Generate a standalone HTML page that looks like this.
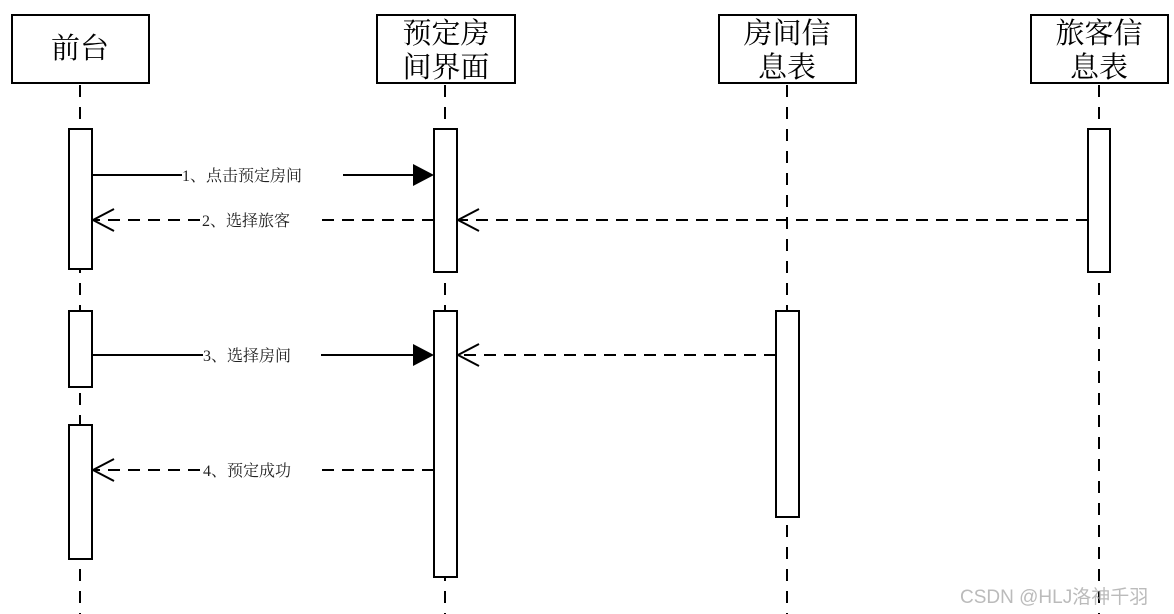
<!DOCTYPE html>
<html><head><meta charset="utf-8"><style>
html,body{margin:0;padding:0;background:#fff;}
svg{display:block;}
.h{font-family:"Liberation Serif","Noto Serif CJK SC",serif;font-size:29px;fill:#000;}
.l{font-family:"Liberation Serif","Noto Serif CJK SC",serif;font-size:16px;fill:#222;}
</style></head><body>
<svg width="1174" height="614" viewBox="0 0 1174 614" xmlns="http://www.w3.org/2000/svg">
<g stroke="#000" stroke-width="2" fill="#fff">
<rect x="12" y="15" width="137" height="68"/>
<rect x="377" y="15" width="138" height="68"/>
<rect x="719" y="15" width="137" height="68"/>
<rect x="1031" y="15" width="137" height="68"/>
</g>
<text class="h" x="80" y="58" text-anchor="middle">前台</text>
<text class="h" x="446" y="43" text-anchor="middle">预定房</text>
<text class="h" x="446" y="77" text-anchor="middle">间界面</text>
<text class="h" x="787" y="43" text-anchor="middle">房间信</text>
<text class="h" x="787" y="77" text-anchor="middle">息表</text>
<text class="h" x="1099" y="43" text-anchor="middle">旅客信</text>
<text class="h" x="1099" y="77" text-anchor="middle">息表</text>
<g stroke="#000" stroke-width="2" stroke-dasharray="12,10" fill="none">
<line x1="80" y1="85" x2="80" y2="614"/>
<line x1="445" y1="85" x2="445" y2="614"/>
<line x1="787" y1="85" x2="787" y2="614"/>
<line x1="1099" y1="85" x2="1099" y2="614"/>
</g>
<g stroke="#000" stroke-width="2" fill="#fff">
<rect x="69" y="129" width="23" height="140"/>
<rect x="69" y="311" width="23" height="76"/>
<rect x="69" y="425" width="23" height="134"/>
<rect x="434" y="129" width="23" height="143"/>
<rect x="434" y="311" width="23" height="266"/>
<rect x="776" y="311" width="23" height="206"/>
<rect x="1088" y="129" width="22" height="143"/>
</g>
<g stroke="#000" stroke-width="2" fill="none">
<line x1="92" y1="175" x2="182" y2="175"/><line x1="343" y1="175" x2="416" y2="175"/>
<line x1="92" y1="355" x2="203" y2="355"/><line x1="321" y1="355" x2="416" y2="355"/>
</g>
<g stroke="#000" stroke-width="2" fill="none" stroke-dasharray="12,8">
<line x1="434" y1="220" x2="322" y2="220"/><line x1="200" y1="220" x2="94" y2="220"/>
<line x1="1088" y1="220" x2="459" y2="220"/>
<line x1="776" y1="355" x2="459" y2="355"/>
<line x1="434" y1="470" x2="322" y2="470"/><line x1="200" y1="470" x2="94" y2="470"/>
</g>
<g fill="#000">
<polygon points="434,175 413,164 413,186"/>
<polygon points="434,355 413,344 413,366"/>
</g>
<g stroke="#000" stroke-width="2" fill="none">
<polyline points="114,209 93,220 114,231"/>
<polyline points="479,209 458,220 479,231"/>
<polyline points="479,344 458,355 479,366"/>
<polyline points="114,459 93,470 114,481"/>
</g>
<text class="l" x="182" y="181">1、点击预定房间</text>
<text class="l" x="202" y="226">2、选择旅客</text>
<text class="l" x="203" y="361">3、选择房间</text>
<text class="l" x="203" y="476">4、预定成功</text>
<text x="960" y="603" style="font-family:'Liberation Sans','Noto Sans CJK SC',sans-serif;font-size:19px;fill:#bbb;">CSDN @HLJ洛神千羽</text>
</svg>
</body></html>
